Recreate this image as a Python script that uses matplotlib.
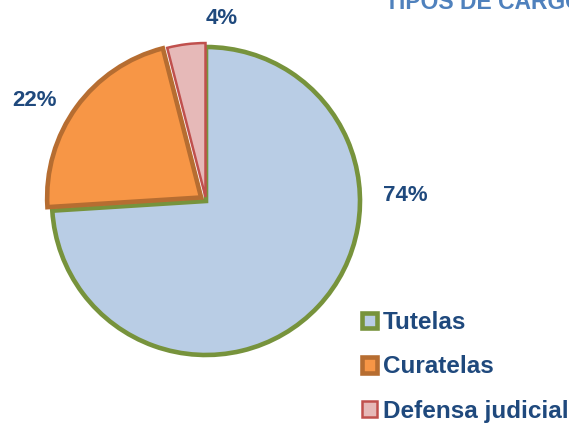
import matplotlib.pyplot as plt

# datos del gráfico
categorias = ['Tutelas', 'Curatelas', 'Defensa judicial']
valores = [74, 22, 4]
etiquetas = ['74%', '22%', '4%']
titulo = 'TIPOS DE CARGOS'

colores = ['#B9CDE5', '#F79646', '#E6B9B8']
bordes = ['#77933C', '#B66D31', '#C0504D']
grosor = [3.3, 3.3, 1.8]

plt.rcParams['font.family'] = ['Liberation Sans', 'DejaVu Sans']

W, H = 569, 425
fig = plt.figure(figsize=(W / 100, H / 100), dpi=100)
ax = fig.add_axes([0, 0, 1, 1])

# explode va en unidades de datos (píxeles aquí)
wedges, _ = ax.pie(valores, colors=colores, startangle=90, counterclock=False,
                   center=(206, H - 201), radius=154, explode=[0, 6, 4],
                   frame=True)
for w, ec, lw in zip(wedges, bordes, grosor):
    w.set_edgecolor(ec)
    w.set_linewidth(lw)
ax.set_xlim(0, W)
ax.set_ylim(0, H)
ax.set_aspect('equal')
ax.axis('off')

# etiquetas de porcentaje
pos_etiquetas = [(405, 195), (35, 100), (222, 18)]
for txt, (x, y) in zip(etiquetas, pos_etiquetas):
    ax.text(x, H - y, txt, ha='center', va='center', fontsize=16,
            fontweight='bold', color='#1F497D')

# título (cortado por el borde como en el original)
fig.text(385 / W, 1 - 9 / H, titulo, ha='left', va='baseline', fontsize=16.5,
         fontweight='bold', color='#4F81BD')

leg = ax.legend(wedges, categorias, loc='upper left',
                bbox_to_anchor=(362 / W, 1 - 311 / H), bbox_transform=fig.transFigure,
                frameon=False, borderpad=0, borderaxespad=0,
                handlelength=0.62, handleheight=0.62, handletextpad=0.25,
                labelspacing=0.88, prop={'size': 17.5, 'weight': 'bold'})
for t in leg.get_texts():
    t.set_color('#1F497D')

fig.savefig('out.png', dpi=100)
